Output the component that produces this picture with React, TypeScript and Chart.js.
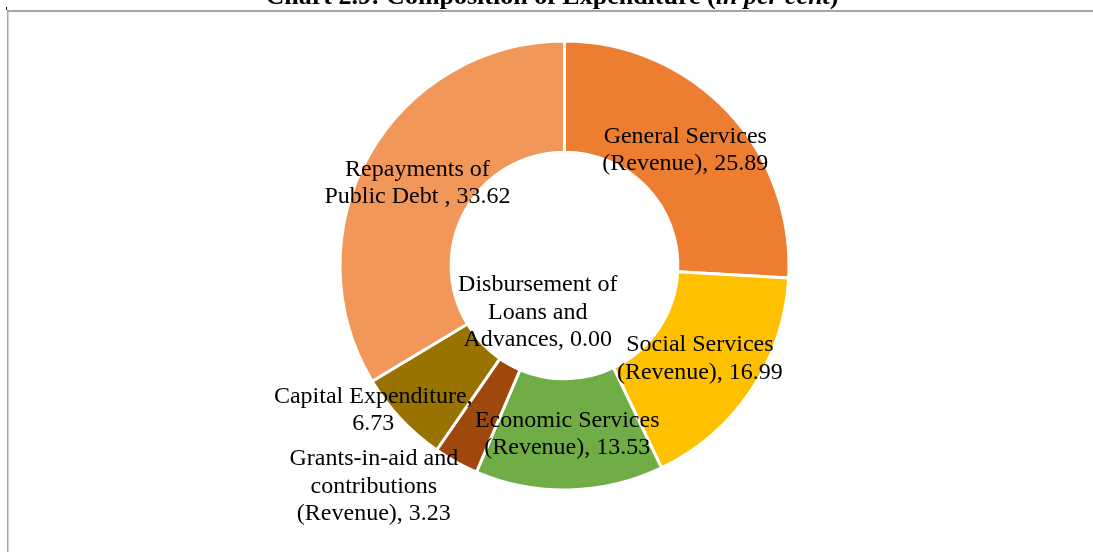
import React, { useEffect, useRef } from "react";
import { Chart, registerables } from "chart.js";

Chart.register(...registerables);

const categories = [
  "General Services (Revenue)",
  "Social Services (Revenue)",
  "Economic Services (Revenue)",
  "Grants-in-aid and contributions (Revenue)",
  "Capital Expenditure",
  "Disbursement of Loans and Advances",
  "Repayments of Public Debt",
];

const values = [25.89, 16.99, 13.53, 3.23, 6.73, 0.0, 33.62];

const labelTemplates = [
  "General Services\n(Revenue), {v}",
  "Social Services\n(Revenue), {v}",
  "Economic Services\n(Revenue), {v}",
  "Grants-in-aid and\ncontributions\n(Revenue), {v}",
  "Capital Expenditure,\n{v}",
  "Disbursement of\nLoans and\nAdvances, {v}",
  "Repayments of\nPublic Debt , {v}",
];

const colors = ["#ED7D31", "#FFC000", "#70AD47", "#9E480E", "#997300", "#43682B", "#F1975A"];

// label offsets from arc centroid (style)
const labelOffsets: [number, number][] = [
  [-2, 1],
  [-5, -1],
  [-1, 0],
  [-109, 73],
  [-68, 29],
  [118, -40],
  [0, 1],
];

const titleBold = "Chart 2.9: Composition of Expenditure (";
const titleItalic = "in per cent";
const titleEnd = ")";

const FONT = '"Liberation Serif", "Times New Roman", serif';

const decorPlugin = {
  id: "decor",
  beforeDraw(chart: any) {
    const ctx = chart.ctx;
    ctx.save();
    ctx.fillStyle = "#ffffff";
    ctx.fillRect(0, 0, chart.width, chart.height);
    ctx.fillStyle = "#A6A6A6";
    ctx.fillRect(7, 10, chart.width - 7, 2);
    ctx.fillRect(7, 10, 1.5, chart.height - 10);
    ctx.fillStyle = "#000000";
    ctx.fillRect(6, 7, 1, 3);
    const fb = `bold 26px ${FONT}`;
    const fi = `italic bold 26px ${FONT}`;
    ctx.font = fb;
    const w1 = ctx.measureText(titleBold).width;
    const w3 = ctx.measureText(titleEnd).width;
    ctx.font = fi;
    const w2 = ctx.measureText(titleItalic).width;
    const total = w1 + w2 + w3;
    let x = 552 - total / 2;
    const y = 4;
    ctx.textBaseline = "alphabetic";
    ctx.textAlign = "left";
    ctx.fillStyle = "#000000";
    ctx.font = fb;
    ctx.fillText(titleBold, x, y);
    x += w1;
    ctx.font = fi;
    ctx.fillText(titleItalic, x, y);
    x += w2;
    ctx.font = fb;
    ctx.fillText(titleEnd, x, y);
    ctx.restore();
  },
};

const labelPlugin = {
  id: "arcLabels",
  afterDatasetsDraw(chart: any) {
    const ctx = chart.ctx;
    const meta = chart.getDatasetMeta(0);
    ctx.save();
    ctx.font = `24px ${FONT}`;
    ctx.fillStyle = "#000000";
    ctx.textAlign = "center";
    ctx.textBaseline = "middle";
    const lineH = 27.5;
    meta.data.forEach((arc: any, i: number) => {
      const p = arc.getProps(["x", "y", "startAngle", "endAngle", "innerRadius", "outerRadius"], true);
      const mid = (p.startAngle + p.endAngle) / 2;
      const r = (p.innerRadius + p.outerRadius) / 2;
      const cx = p.x + Math.cos(mid) * r + labelOffsets[i][0];
      const cy = p.y + Math.sin(mid) * r + labelOffsets[i][1];
      const text = labelTemplates[i].replace("{v}", values[i].toFixed(2));
      const lines = text.split("\n");
      const top = cy - ((lines.length - 1) * lineH) / 2;
      lines.forEach((ln, k) => ctx.fillText(ln, cx, top + k * lineH));
    });
    ctx.restore();
  },
};

export default function App() {
  const ref = useRef<HTMLCanvasElement | null>(null);
  useEffect(() => {
    if (!ref.current) return;
    const chart = new Chart(ref.current, {
      type: "doughnut",
      data: {
        labels: categories,
        datasets: [
          {
            data: values,
            backgroundColor: colors,
            borderColor: "#ffffff",
            borderWidth: 3,
          },
        ],
      },
      options: {
        responsive: false,
        animation: false,
        devicePixelRatio: 1,
        cutout: "50.5%",
        layout: { padding: { top: 39.5, bottom: 60.5, left: 338.5, right: 302.5 } },
        plugins: {
          legend: { display: false },
          tooltip: { enabled: false },
          title: { display: false },
        },
      },
      plugins: [decorPlugin, labelPlugin],
    });
    return () => chart.destroy();
  }, []);
  return (
    <div style={{ position: "fixed", left: 0, top: 0, width: 1093, height: 552, background: "#fff" }}>
      <canvas ref={ref} width={1093} height={552} style={{ width: 1093, height: 552, display: "block" }} />
    </div>
  );
}
